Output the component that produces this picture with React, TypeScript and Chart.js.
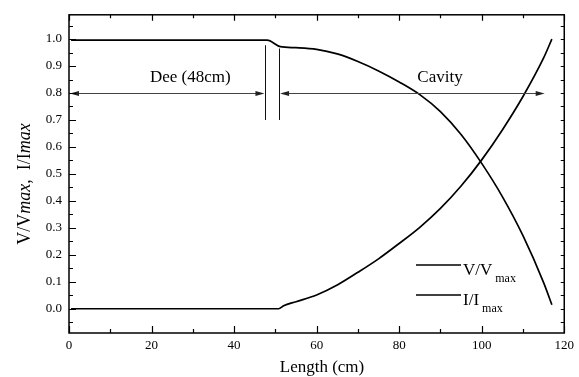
import React, { useEffect, useRef } from "react";
import { Chart, registerables } from "chart.js";

Chart.register(...registerables);

// ---- data ----
const X_MIN = 0;
const X_MAX = 120;
const Y_MIN = -0.09;
const Y_MAX = 1.09;

const vX = [0.5, 48, 51.2, 55, 60, 65, 70, 75, 80, 85, 90, 95, 100, 105, 110, 115, 117];
const vY = [0.996, 0.996, 0.972, 0.968, 0.962, 0.945, 0.917, 0.882, 0.841, 0.794, 0.731, 0.646, 0.539, 0.416, 0.271, 0.097, 0.015];

const iX = [0.5, 50.8, 52, 55, 60, 65, 70, 75, 80, 85, 90, 95, 100, 105, 110, 115, 117];
const iY = [0, 0, 0.011, 0.026, 0.051, 0.088, 0.135, 0.185, 0.242, 0.302, 0.372, 0.455, 0.552, 0.663, 0.787, 0.93, 1.0];

// annotation values
const boundaryX = [47.6, 50.9];
const boundaryTop = [0.977, 0.965];
const boundaryBottom = 0.7;
const arrowY = 0.8;
const deeArrow = [0, 47.6];
const cavityArrow = [50.9, 115.5];
const regionLabels = ["Dee (48cm)", "Cavity"];
const regionLabelX = [29.4, 89.9];
const regionLabelY = 0.84;

const FONT = '"Liberation Serif", "Times New Roman", Times, serif';

function arrowHead(ctx: CanvasRenderingContext2D, tipX: number, tipY: number, dir: number) {
  const len = 9;
  const hw = 2.6;
  ctx.beginPath();
  ctx.moveTo(tipX, tipY);
  ctx.lineTo(tipX - dir * len, tipY - hw);
  ctx.lineTo(tipX - dir * len, tipY + hw);
  ctx.closePath();
  ctx.fill();
}

const decorPlugin = {
  id: "decor",
  afterDatasetsDraw(chart: any) {
    const { ctx, chartArea: a, scales } = chart;
    const xs = scales.x;
    const ys = scales.y;
    ctx.save();

    // boundary lines
    ctx.strokeStyle = "#111";
    ctx.lineWidth = 1;
    boundaryX.forEach((bx, k) => {
      const px = Math.round(xs.getPixelForValue(bx)) + 0.5;
      ctx.beginPath();
      ctx.moveTo(px, ys.getPixelForValue(boundaryTop[k]));
      ctx.lineTo(px, ys.getPixelForValue(boundaryBottom));
      ctx.stroke();
    });

    // arrows
    ctx.strokeStyle = "#444";
    ctx.fillStyle = "#222";
    const py = Math.round(ys.getPixelForValue(arrowY)) + 0.5;
    [deeArrow, cavityArrow].forEach((arr) => {
      const x1 = xs.getPixelForValue(arr[0]) + 1;
      const x2 = xs.getPixelForValue(arr[1]) - 1;
      ctx.beginPath();
      ctx.moveTo(x1 + 4, py);
      ctx.lineTo(x2 - 4, py);
      ctx.stroke();
      arrowHead(ctx, x1, py, -1);
      arrowHead(ctx, x2, py, 1);
    });

    // region labels
    ctx.fillStyle = "#000";
    ctx.font = `17px ${FONT}`;
    ctx.textAlign = "center";
    ctx.textBaseline = "alphabetic";
    regionLabels.forEach((t, k) => {
      ctx.fillText(t, xs.getPixelForValue(regionLabelX[k]), ys.getPixelForValue(regionLabelY));
    });

    // legend
    const legendItems = [
      { main: "V/V", sub: "max", y: 265 },
      { main: "I/I", sub: "max", y: 295 },
    ];
    legendItems.forEach((it) => {
      ctx.strokeStyle = "#000";
      ctx.lineWidth = 1.6;
      ctx.beginPath();
      ctx.moveTo(416, it.y);
      ctx.lineTo(461, it.y);
      ctx.stroke();
      ctx.textAlign = "left";
      ctx.font = `17px ${FONT}`;
      ctx.fillText(it.main, 463, it.y + 10);
      const w = ctx.measureText(it.main).width;
      ctx.font = `12px ${FONT}`;
      ctx.fillText(it.sub, 463 + w + 3, it.y + 17);
    });

    // frame
    ctx.strokeStyle = "#000";
    ctx.lineWidth = 1.5;
    ctx.strokeRect(a.left, a.top, a.right - a.left, a.bottom - a.top);

    // tick marks (inward)
    ctx.lineWidth = 1.2;
    for (let v = X_MIN; v <= X_MAX; v += 10) {
      const px = Math.round(xs.getPixelForValue(v)) + 0.5;
      const major = v % 20 === 0;
      const lb = major ? 7 : 4;
      const lt = major ? 6 : 3.5;
      ctx.beginPath();
      ctx.moveTo(px, a.bottom);
      ctx.lineTo(px, a.bottom - lb);
      ctx.moveTo(px, a.top);
      ctx.lineTo(px, a.top + lt);
      ctx.stroke();
    }
    for (let k = -1; k <= 21; k++) {
      const v = k * 0.05;
      const py2 = Math.round(ys.getPixelForValue(v)) + 0.5;
      const major = k % 2 === 0;
      ctx.beginPath();
      ctx.moveTo(a.left, py2);
      ctx.lineTo(a.left + (major ? 7 : 4), py2);
      ctx.moveTo(a.right, py2);
      ctx.lineTo(a.right - 3.5, py2);
      ctx.stroke();
    }

    // axis titles
    ctx.fillStyle = "#000";
    ctx.font = `17px ${FONT}`;
    ctx.textAlign = "center";
    ctx.textBaseline = "alphabetic";
    ctx.fillText("Length (cm)", 322, 372);

    // y title with italic parts
    const parts = [
      { t: "V/V", it: false },
      { t: "max", it: true },
      { t: ",  ", it: false },
      { t: "I/I", it: false },
      { t: "max", it: true },
    ];
    const size = 18;
    let total = 0;
    const widths = parts.map((p) => {
      ctx.font = `${p.it ? "italic " : ""}${size}px ${FONT}`;
      const w = ctx.measureText(p.t).width;
      total += w;
      return w;
    });
    ctx.translate(30, 184);
    ctx.rotate(-Math.PI / 2);
    ctx.textAlign = "left";
    let cx = -total / 2;
    parts.forEach((p, k) => {
      ctx.font = `${p.it ? "italic " : ""}${size}px ${FONT}`;
      ctx.fillText(p.t, cx, 0);
      cx += widths[k];
    });

    ctx.restore();
  },
};

export default function App() {
  const ref = useRef<HTMLCanvasElement | null>(null);

  useEffect(() => {
    document.body.style.margin = "0";
    const canvas = ref.current;
    if (!canvas) return;
    const chart = new Chart(canvas, {
      type: "line",
      data: {
        datasets: [
          {
            label: "V/Vmax",
            data: vX.map((x, k) => ({ x, y: vY[k] })),
            borderColor: "#000",
            borderWidth: 1.7,
            pointRadius: 0,
            fill: false,
            cubicInterpolationMode: "monotone",
          },
          {
            label: "I/Imax",
            data: iX.map((x, k) => ({ x, y: iY[k] })),
            borderColor: "#000",
            borderWidth: 1.7,
            pointRadius: 0,
            fill: false,
            cubicInterpolationMode: "monotone",
          },
        ],
      },
      options: {
        animation: false,
        responsive: false,
        devicePixelRatio: 1,
        layout: { padding: { left: 0, top: 12, right: 12, bottom: 0 } },
        plugins: {
          legend: { display: false },
          tooltip: { enabled: false },
        },
        scales: {
          x: {
            type: "linear",
            min: X_MIN,
            max: X_MAX,
            grid: { display: false, drawTicks: false },
            border: { display: false },
            ticks: {
              stepSize: 20,
              padding: 5,
              color: "#000",
              font: { family: FONT, size: 13 },
              callback: (v: any) => String(v),
            },
            afterFit: (s: any) => {
              s.height = 44;
            },
          },
          y: {
            type: "linear",
            min: Y_MIN,
            max: Y_MAX,
            grid: { display: false, drawTicks: false },
            border: { display: false },
            ticks: {
              stepSize: 0.1,
              includeBounds: false,
              padding: 7,
              color: "#000",
              font: { family: FONT, size: 13 },
              callback: (v: any) => Number(v).toFixed(1),
            },
            afterFit: (s: any) => {
              s.width = 69;
            },
          },
        },
      },
      plugins: [decorPlugin],
    });
    return () => chart.destroy();
  }, []);

  return (
    <div style={{ position: "absolute", left: 0, top: 0, width: 579, height: 377, background: "#fff" }}>
      <canvas ref={ref} width={579} height={377} style={{ width: 579, height: 377 }} />
    </div>
  );
}
